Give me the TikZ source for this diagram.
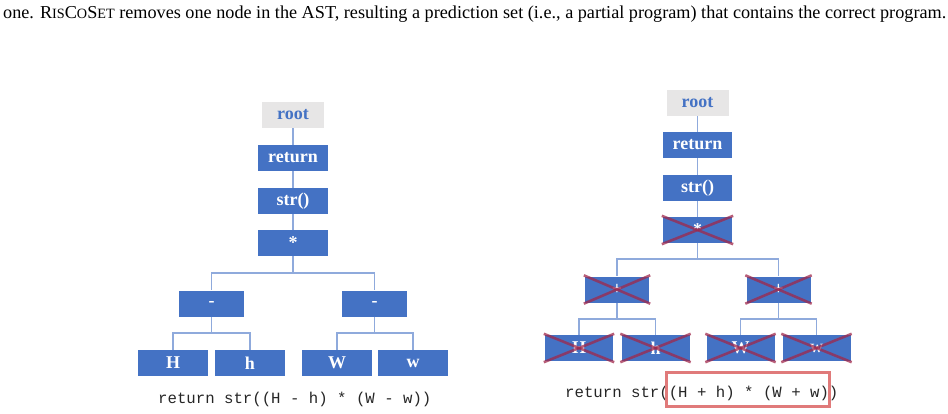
\documentclass[tikz,border=0pt]{standalone}
\usepackage{fontspec}
\setmainfont{Liberation Serif}
\setmonofont{Liberation Mono}
\definecolor{nodeblue}{HTML}{4472C4}
\definecolor{rootgray}{HTML}{E7E6E6}
\definecolor{connblue}{HTML}{8FAADC}
\definecolor{crossred}{RGB}{160,40,75}
\definecolor{boxred}{RGB}{224,122,122}
\tikzset{
  bnode/.style={fill=nodeblue, text=white, minimum height=26pt, inner sep=0pt,
    font=\fontsize{18}{18}\selectfont\bfseries},
  rnode/.style={fill=rootgray, text=nodeblue, minimum height=26pt, minimum width=62pt, inner sep=0pt,
    font=\fontsize{18}{18}\selectfont\bfseries},
  conn/.style={draw=connblue, line width=1.5pt},
  xline/.style={draw=crossred, opacity=0.75, line width=2.6pt},
  codetxt/.style={font=\fontsize{15.7}{16}\selectfont\ttfamily, inner sep=0pt, text=black!85},
}
\newcommand{\crossout}[1]{%
  \draw[xline] ([shift={(-1,-1)}]#1.north west) -- ([shift={(1,1)}]#1.south east);
  \draw[xline] ([shift={(-1,1)}]#1.south west) -- ([shift={(1,-1)}]#1.north east);}
\begin{document}
\begin{tikzpicture}[x=1pt,y=-1pt]
\useasboundingbox (0,0) rectangle (948,414);
% caption
\node[anchor=base west, inner sep=0pt, font=\fontsize{18.2}{18}\selectfont] (cap) at (3,18.5)
  {one. R{\fontsize{14.2}{14}\selectfont IS}C{\fontsize{14.2}{14}\selectfont O}S{\fontsize{14.2}{14}\selectfont ET} removes one node in the AST, resulting a prediction set (i.e., a partial program) that contains the correct program.};
% ---------- left tree ----------
\node[rnode] (lroot) at (293,115) {root};
\node[bnode, minimum width=70pt] (lret) at (293,158) {return};
\node[bnode, minimum width=70pt] (lstr) at (293,201) {str()};
\node[bnode, minimum width=70pt] (lmul) at (293,243) {*};
\node[bnode, minimum width=65pt] (lm1) at (211.5,303.5) {-};
\node[bnode, minimum width=65pt] (lm2) at (374.5,303.5) {-};
\node[bnode, minimum width=70pt] (lH) at (173,363) {H};
\node[bnode, minimum width=70pt] (lh) at (250,363) {h};
\node[bnode, minimum width=70pt] (lW) at (337,363) {W};
\node[bnode, minimum width=70pt] (lw) at (413,363) {w};
\draw[conn] (lroot) -- (lret);
\draw[conn] (lret) -- (lstr);
\draw[conn] (lstr) -- (lmul);
\draw[conn] (lmul.south) -- (lmul.south |- 0,273) -| (lm1.north);
\draw[conn] (lmul.south |- 0,273) -| (lm2.north);
\draw[conn] (lm1.south) -- (lm1.south |- 0,333) -| (lH.north);
\draw[conn] (lm1.south |- 0,333) -| (lh.north);
\draw[conn] (lm2.south) -- (lm2.south |- 0,333) -| (lW.north);
\draw[conn] (lm2.south |- 0,333) -| (lw.north);
\node[codetxt, anchor=base west] (lcode) at (158,403) {return str((H - h) * (W - w))};
% ---------- right tree ----------
\node[rnode] (rroot) at (697.5,103) {root};
\node[bnode, minimum width=69pt] (rret) at (697.5,145) {return};
\node[bnode, minimum width=69pt] (rstr) at (697.5,188) {str()};
\node[bnode, minimum width=69pt] (rmul) at (697.5,230) {*};
\node[bnode, minimum width=64pt] (rp1) at (617,289.5) {+};
\node[bnode, minimum width=64pt] (rp2) at (778.5,289.5) {+};
\node[bnode, minimum width=68pt] (rH) at (579,348) {H};
\node[bnode, minimum width=68pt] (rh) at (655.5,348) {h};
\node[bnode, minimum width=68pt] (rW) at (740.5,348) {W};
\node[bnode, minimum width=68pt] (rw) at (816.5,348) {w};
\draw[conn] (rroot) -- (rret);
\draw[conn] (rret) -- (rstr);
\draw[conn] (rstr) -- (rmul);
\draw[conn] (rmul.south) -- (rmul.south |- 0,259) -| (rp1.north);
\draw[conn] (rmul.south |- 0,259) -| (rp2.north);
\draw[conn] (rp1.south) -- (rp1.south |- 0,319) -| (rH.north);
\draw[conn] (rp1.south |- 0,319) -| (rh.north);
\draw[conn] (rp2.south) -- (rp2.south |- 0,319) -| (rW.north);
\draw[conn] (rp2.south |- 0,319) -| (rw.north);
\foreach \n in {rmul,rp1,rp2,rH,rh,rW,rw} {\crossout{\n}}
\node[codetxt, anchor=base west] (rcode) at (565,397) {return str((H + h) * (W + w))};
\node[draw=boxred, line width=3pt, inner sep=0pt, minimum width=163pt, minimum height=34pt] (hl) at (747.5,389) {};
\end{tikzpicture}
\end{document}
